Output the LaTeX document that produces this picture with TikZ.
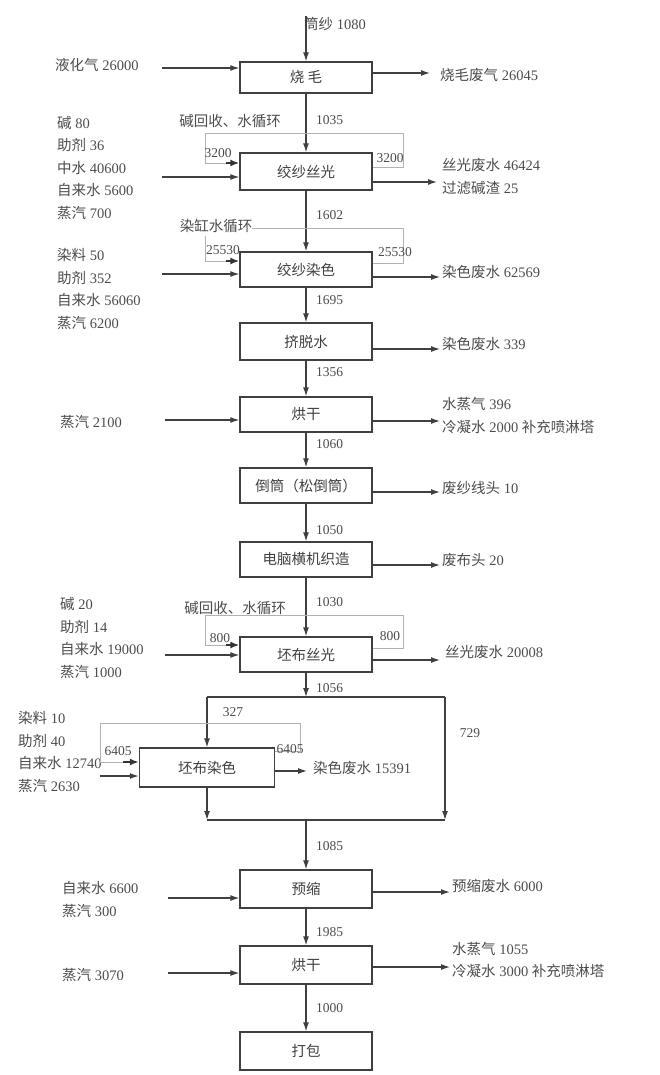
\documentclass[tikz,border=0pt]{standalone}
\usepackage{fontspec}
\setmainfont{Liberation Serif}
\newfontfamily\cjk{Noto Sans CJK SC}
\usetikzlibrary{arrows.meta}
\newcommand\zh[1]{{\cjk #1}}

\tikzset{
  proc/.style={draw=black!75, line width=1.3pt, minimum width=132pt, minimum height=35pt,
    inner sep=0pt, text=black!75, font=\fontsize{14.5}{16}\selectfont\cjk},
  lbl/.style={text=black!70, inner sep=0pt, anchor=west, align=left,
    font=\fontsize{14.5}{22.5}\selectfont},
  num/.style={text=black!70, inner sep=0pt, font=\fontsize{13.5}{15}\selectfont},
  flow/.style={draw=black!75, line width=1.2pt, -{Latex[length=9pt,width=6pt]}},
  trunk/.style={draw=black!75, line width=1.2pt},
  recyc/.style={draw=black!30, line width=0.9pt},
  feed/.style={draw=black!80, line width=2.2pt, -{Latex[length=9pt,width=7pt]}},
}

\begin{document}
\begin{tikzpicture}[x=1pt,y=-1pt]
\useasboundingbox (0,0) rectangle (659,1075);

% main line
\node[proc, minimum height=31pt] (b1) at (306,77.5) {烧 毛};
\node[proc, minimum height=37pt] (b2) at (306,171.5) {绞纱丝光};
\node[proc] (b3) at (306,269.5) {绞纱染色};
\node[proc, minimum height=37pt] (b4) at (306,341.5) {挤脱水};
\node[proc] (b5) at (306,414.5) {烘干};
\node[proc] (b6) at (306,485.5) {倒筒（松倒筒）};
\node[proc] (b7) at (306,559.5) {电脑横机织造};
\node[proc] (b8) at (306,654.5) {坯布丝光};
\node[proc, minimum width=135pt, minimum height=39pt] (b9) at (207,767.5) {坯布染色};
\node[proc, minimum height=38pt] (b10) at (306,889) {预缩};
\node[proc, minimum height=38pt] (b11) at (306,965) {烘干};
\node[proc, minimum height=38pt] (b12) at (306,1051) {打包};

\node[lbl] (src) at (304,24) {\zh{筒纱} 1080};
\coordinate (s0) at (306,16);
\draw[flow] (s0) -- (b1);
\draw[flow] (b1) -- (b2);
\draw[flow] (b2) -- (b3);
\draw[flow] (b3) -- (b4);
\draw[flow] (b4) -- (b5);
\draw[flow] (b5) -- (b6);
\draw[flow] (b6) -- (b7);
\draw[flow] (b7) -- (b8);
\draw[flow] (b10) -- (b11);
\draw[flow] (b11) -- (b12);

\node[num, anchor=west] at (316,120) {1035};
\node[num, anchor=west] at (316,215) {1602};
\node[num, anchor=west] at (316,300) {1695};
\node[num, anchor=west] at (316,372) {1356};
\node[num, anchor=west] at (316,444) {1060};
\node[num, anchor=west] at (316,530) {1050};
\node[num, anchor=west] at (316,602) {1030};
\node[num, anchor=west] at (316,688) {1056};
\node[num, anchor=west] at (316,846) {1085};
\node[num, anchor=west] at (316,932) {1985};
\node[num, anchor=west] at (316,1008) {1000};

% split and merge round the fabric dyeing
\coordinate (sp) at (306,697);
\coordinate (spl) at (207,697);
\coordinate (spr) at (445,697);
\coordinate (ml) at (207,820);
\coordinate (mg) at (306,820);
\coordinate (mr) at (445,820);
\draw[flow] (b8) -- (sp);
\draw[trunk] (spl) -- (spr);
\draw[flow] (spl) -- (b9);
\draw[flow] (spr) -- (mr);
\draw[flow] (b9) -- (ml);
\draw[trunk] (ml) -- (mr);
\draw[flow] (mg) -- (b10);
\node[num] at (233,712) {327};
\node[num] at (470,733) {729};

% inputs
\node[lbl] (m1) at (55,65) {\zh{液化气} 26000};
\coordinate (in1) at (162,68);
\draw[flow] (in1) -- (in1 -| b1.west);

\node[lbl] (m2) at (57,168) {\zh{碱} 80\\\zh{助剂} 36\\\zh{中水} 40600\\\zh{自来水} 5600\\\zh{蒸汽} 700};
\coordinate (in2) at (162,177);
\draw[flow] (in2) -- (in2 -| b2.west);

\node[lbl] (m3) at (57,289) {\zh{染料} 50\\\zh{助剂} 352\\\zh{自来水} 56060\\\zh{蒸汽} 6200};
\coordinate (in3) at (162,274);
\draw[flow] (in3) -- (in3 -| b3.west);

\node[lbl] (m5) at (60,422) {\zh{蒸汽} 2100};
\coordinate (in5) at (165,420);
\draw[flow] (in5) -- (in5 -| b5.west);

\node[lbl] (m8) at (60,638) {\zh{碱} 20\\\zh{助剂} 14\\\zh{自来水} 19000\\\zh{蒸汽} 1000};
\coordinate (in8) at (165,655);
\draw[flow] (in8) -- (in8 -| b8.west);

\node[lbl] (m9) at (18,752) {\zh{染料} 10\\\zh{助剂} 40\\\zh{自来水} 12740\\\zh{蒸汽} 2630};
\coordinate (in9) at (100,776);
\draw[flow] (in9) -- (in9 -| b9.west);

\node[lbl] (m10) at (62,899.5) {\zh{自来水} 6600\\\zh{蒸汽} 300};
\coordinate (in10) at (168,898);
\draw[flow] (in10) -- (in10 -| b10.west);

\node[lbl] (m11) at (62,975) {\zh{蒸汽} 3070};
\coordinate (in11) at (168,973);
\draw[flow] (in11) -- (in11 -| b11.west);

% outputs
\coordinate (out1) at (430,73);
\draw[flow] (out1 -| b1.east) -- (out1);
\node[lbl] (w1) at (440,75) {\zh{烧毛废气} 26045};

\coordinate (out2) at (437,182);
\draw[flow] (out2 -| b2.east) -- (out2);
\node[lbl] (w2) at (442,176.5) {\zh{丝光废水} 46424\\\zh{过滤碱渣} 25};

\coordinate (out3) at (440,277);
\draw[flow] (out3 -| b3.east) -- (out3);
\node[lbl] (w3) at (442,272) {\zh{染色废水} 62569};

\coordinate (out4) at (440,349);
\draw[flow] (out4 -| b4.east) -- (out4);
\node[lbl] (w4) at (442,344) {\zh{染色废水} 339};

\coordinate (out5) at (440,421);
\draw[flow] (out5 -| b5.east) -- (out5);
\node[lbl] (w5) at (442,415.5) {\zh{水蒸气} 396\\\zh{冷凝水} 2000 \zh{补充喷淋塔}};

\coordinate (out6) at (440,492);
\draw[flow] (out6 -| b6.east) -- (out6);
\node[lbl] (w6) at (442,488) {\zh{废纱线头} 10};

\coordinate (out7) at (440,565);
\draw[flow] (out7 -| b7.east) -- (out7);
\node[lbl] (w7) at (442,560) {\zh{废布头} 20};

\coordinate (out8) at (440,660);
\draw[flow] (out8 -| b8.east) -- (out8);
\node[lbl] (w8) at (445,652) {\zh{丝光废水} 20008};

\coordinate (out9) at (307,771);
\draw[flow] (out9 -| b9.east) -- (out9);
\node[lbl] (w9) at (313,768) {\zh{染色废水} 15391};

\coordinate (out10) at (450,892);
\draw[flow] (out10 -| b10.east) -- (out10);
\node[lbl] (w10) at (452,886) {\zh{预缩废水} 6000};

\coordinate (out11) at (450,967);
\draw[flow] (out11 -| b11.east) -- (out11);
\node[lbl] (w11) at (452,960) {\zh{水蒸气} 1055\\\zh{冷凝水} 3000 \zh{补充喷淋塔}};

% recycle loops
\node[lbl, anchor=center] (rc2) at (230,121) {\zh{碱回收、水循环}};
\coordinate (r2) at (403,133);
\coordinate (l2) at (205,133);
\coordinate (f2) at (226,163);
\draw[recyc] ([yshift=4pt]b2.east) -| (r2) -- (l2) |- (f2);
\draw[feed] (f2) -- (f2 -| b2.west);
\node[num] at (218,153) {3200};
\node[num] at (390,158) {3200};

\node[lbl, anchor=center] (rc3) at (216,226) {\zh{染缸水循环}};
\coordinate (r3) at (403,228);
\coordinate (l3) at (205,236);
\coordinate (f3) at (226,261);
\draw[recyc] ([yshift=6pt]b3.east) -| (r3) -- (r3 -| rc3.east);
\draw[recyc] (l3) |- (f3);
\draw[feed] (f3) -- (f3 -| b3.west);
\node[num] at (223,250) {25530};
\node[num] at (395,252) {25530};

\node[lbl, anchor=center] (rc8) at (235,608) {\zh{碱回收、水循环}};
\coordinate (r8) at (403,615);
\coordinate (l8) at (205,615);
\coordinate (f8) at (226,645);
\draw[recyc] ([yshift=6pt]b8.east) -| (r8) -- (l8) |- (f8);
\draw[feed] (f8) -- (f8 -| b8.west);
\node[num] at (220,638) {800};
\node[num] at (390,636) {800};

\coordinate (r9) at (300,723);
\coordinate (l9) at (100,723);
\coordinate (f9) at (123,762);
\draw[recyc] ([yshift=16pt]b9.east) -| (r9) -- (l9) |- (f9);
\draw[feed] (f9) -- (f9 -| b9.west);
\node[num] at (118,751) {6405};
\node[num] at (290,749) {6405};
\end{tikzpicture}
\end{document}
